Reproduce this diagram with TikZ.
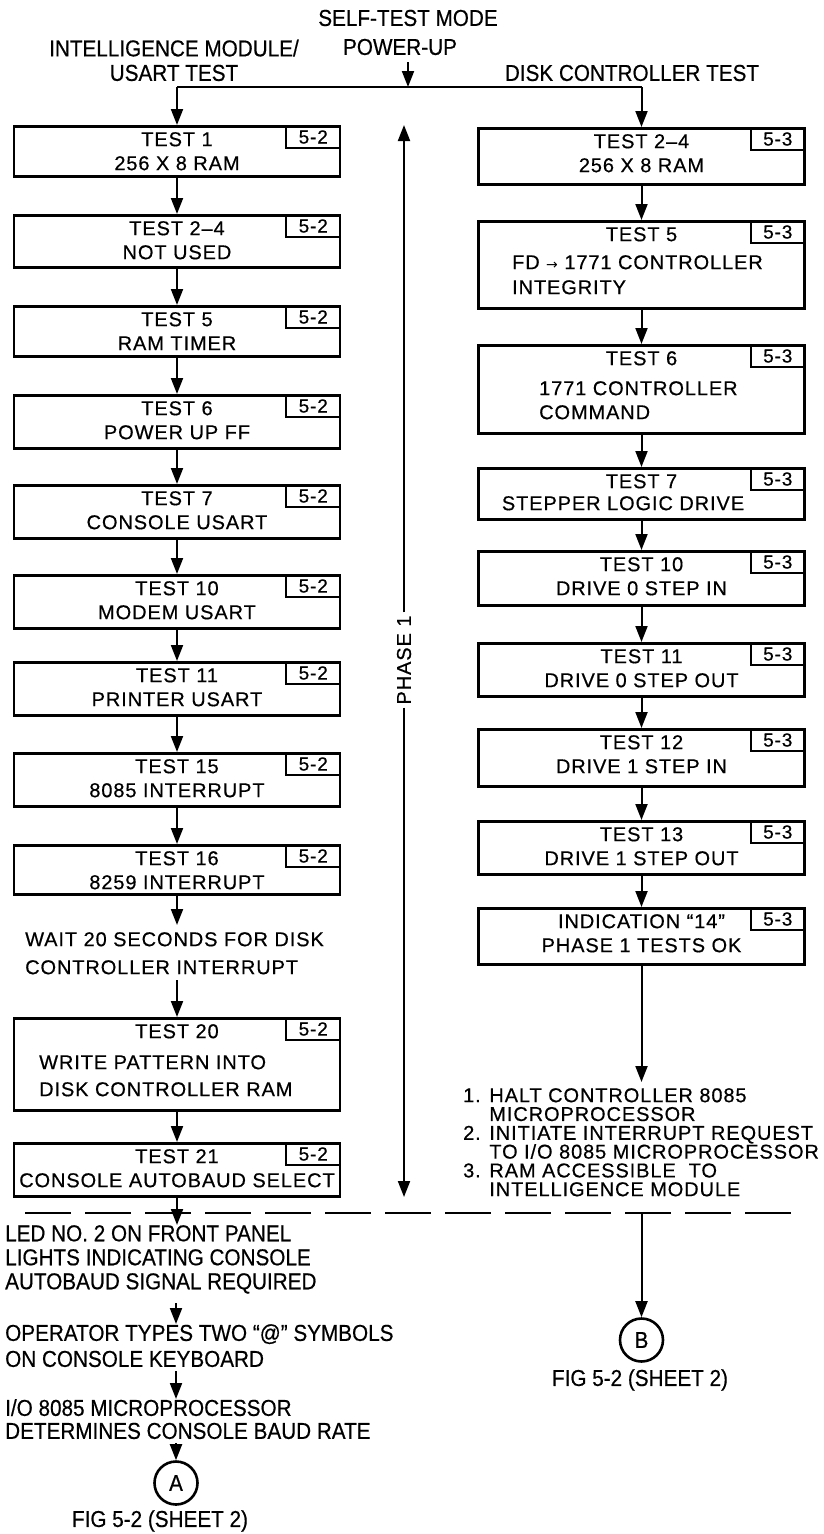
\documentclass[tikz,border=0pt]{standalone}
\usepackage{fontspec}
\setmainfont{Liberation Sans}
\newfontfamily\lsfam[LetterSpace=4.5,FakeBold=0.5]{Liberation Sans}
\newfontfamily\cdfam[FakeStretch=0.9,FakeBold=0.5]{Liberation Sans}
\newfontfamily\arrfam{DejaVu Sans}
\usetikzlibrary{arrows.meta,calc}
\newcommand\boxfnt{\lsfam\fontsize{20}{24}\selectfont}
\newcommand\tagfnt{\lsfam\fontsize{19}{20}\selectfont}
\newcommand\lblfnt{\cdfam\fontsize{23}{24.5}\selectfont}
\newcommand\tbox[6]{%
  \node[bx, minimum height=#4pt] (#1) at (#2,#3) {};
  \node[tg] (#1t) at (#1.north east) {#5};
  \node[bt] (#1x) at ([yshift=-7pt]#1.north) {#6};
}
\begin{document}
\begin{tikzpicture}[x=1pt,y=-1pt,
  bx/.style={draw, line width=2.6pt, minimum width=326pt, inner sep=0pt, anchor=north},
  tg/.style={draw, line width=2pt, minimum width=54pt, minimum height=22pt, inner sep=0pt, anchor=north east, font=\tagfnt},
  bt/.style={inner sep=0pt, anchor=north, font=\boxfnt, align=center},
  bl/.style={inner sep=0pt, anchor=north west, font=\boxfnt, align=left},
  lb/.style={inner sep=0pt, font=\lblfnt, align=left},
  ar/.style={line width=2pt, -{Triangle[length=16pt,width=12pt]}},
  ln/.style={line width=2pt},
  circ/.style={draw, circle, line width=2.6pt, minimum size=43pt, inner sep=0pt, font=\lblfnt}]
\useasboundingbox (0,0) rectangle (824,1534);

% top labels
\node[lb, anchor=center] (stm) at (408,18) {SELF-TEST MODE};
\node[lb, anchor=center] (pwr) at (400,47) {POWER-UP};
\node[lb, anchor=north, align=center] (iml) at (174,39.5) {INTELLIGENCE MODULE/\\USART TEST};
\node[lb, anchor=center] (dct) at (632,73) {DISK CONTROLLER TEST};

% left column
\tbox{L1}{177}{125}{50}{5-2}{TEST 1\\256 X 8 RAM}
\tbox{L2}{177}{214}{52}{5-2}{TEST 2–4\\NOT USED}
\tbox{L3}{177}{305}{50}{5-2}{TEST 5\\RAM TIMER}
\tbox{L4}{177}{394}{53}{5-2}{TEST 6\\POWER UP FF}
\tbox{L5}{177}{484}{53}{5-2}{TEST 7\\CONSOLE USART}
\tbox{L6}{177}{574}{53}{5-2}{TEST 10\\MODEM USART}
\tbox{L7}{177}{661}{53}{5-2}{TEST 11\\PRINTER USART}
\tbox{L8}{177}{752}{53}{5-2}{TEST 15\\8085 INTERRUPT}
\tbox{L9}{177}{844}{49}{5-2}{TEST 16\\8259 INTERRUPT}
\node[bl, font=\lsfam\fontsize{20}{28}\selectfont] (wait) at (25,932) {WAIT 20 SECONDS FOR DISK\\CONTROLLER INTERRUPT};
\tbox{L10}{177}{1017}{92}{5-2}{TEST 20}
\node[bl, font=\lsfam\fontsize{20}{27}\selectfont] (L10b) at (39,1055) {WRITE PATTERN INTO\\DISK CONTROLLER RAM};
\tbox{L11}{177}{1142}{53}{5-2}{TEST 21\\CONSOLE AUTOBAUD SELECT}

% right column
\tbox{R1}{641.5}{127}{56}{5-3}{TEST 2–4\\256 X 8 RAM}
\tbox{R2}{641.5}{220}{87}{5-3}{TEST 5}
\node[bl, font=\lsfam\fontsize{20}{25}\selectfont] (R2b) at (512,255) {FD {\arrfam\fontsize{14}{14}\selectfont→} 1771 CONTROLLER\\INTEGRITY};
\tbox{R3}{641.5}{344}{88}{5-3}{TEST 6}
\node[bl] (R3b) at (539,381) {1771 CONTROLLER\\COMMAND};
\tbox{R4}{641.5}{467}{51}{5-3}{TEST 7}
\node[bt] (R4b) at (623,496) {STEPPER LOGIC DRIVE};
\tbox{R5}{641.5}{550}{54}{5-3}{TEST 10\\DRIVE 0 STEP IN}
\tbox{R6}{641.5}{642}{53}{5-3}{TEST 11\\DRIVE 0 STEP OUT}
\tbox{R7}{641.5}{728}{57}{5-3}{TEST 12\\DRIVE 1 STEP IN}
\tbox{R8}{641.5}{820}{53}{5-3}{TEST 13\\DRIVE 1 STEP OUT}
\tbox{R9}{641.5}{907}{56}{5-3}{INDICATION “14”\\PHASE 1 TESTS OK}
\node[bl, font=\lsfam\fontsize{20}{18.8}\selectfont] (halt) at (463,1088)
  {1. HALT CONTROLLER 8085\\\hphantom{1. }MICROPROCESSOR\\2. INITIATE INTERRUPT REQUEST\\\hphantom{1. }TO I/O 8085 MICROPROCESSOR\\3. RAM ACCESSIBLE\ \ TO\\\hphantom{1. }INTELLIGENCE MODULE};

% phase 1 arrow
\node[inner sep=3pt, rotate=90, font=\boxfnt] (ph) at (404,660) {PHASE 1};
\coordinate (p1) at (404,125);
\coordinate (p2) at (404,1197);
\draw[ar] (ph.east) -- (p1);
\draw[ar] (ph.west) -- (p2);

% top tree
\coordinate (pw) at (408,62);
\coordinate (jc) at (408,87);
\coordinate (jl) at (177,87);
\coordinate (jr) at (641.5,87);
\draw[ln] (jl) -- (jr);
\draw[ar] (pw) -- (jc);
\draw[ar] (jl) -- (L1.north);
\draw[ar] (jr) -- (R1.north);

% left column connectors
\foreach \a/\b in {L1/L2,L2/L3,L3/L4,L4/L5,L5/L6,L6/L7,L7/L8,L8/L9,L10/L11}
  \draw[ar] (\a.south) -- (\b.north);
\coordinate (w1) at (177,925);
\coordinate (w2) at (177,980);
\draw[ar] (L9.south) -- (w1);
\draw[ar] (w2) -- (L10.north);

% right column connectors
\foreach \a/\b in {R1/R2,R2/R3,R3/R4,R4/R5,R5/R6,R6/R7,R7/R8,R8/R9}
  \draw[ar] (\a.south) -- (\b.north);
\coordinate (h1) at (641.5,1082);
\draw[ar] (R9.south) -- (h1);

% dashed separator
\coordinate (d1) at (25,1213);
\coordinate (d2) at (802,1213);
\draw[line width=2.6pt, dash pattern=on 46pt off 14pt] (d1) -- (d2);

% bottom left sequence
\node[lb, anchor=north west, font=\cdfam\fontsize{23}{24}\selectfont] (led) at (5,1225)
  {LED NO. 2 ON FRONT PANEL\\LIGHTS INDICATING CONSOLE\\AUTOBAUD SIGNAL REQUIRED};
\draw[ar] (L11.south) -- (L11.south |- led.north);
\node[lb, anchor=north west, font=\cdfam\fontsize{23}{26}\selectfont] (opr) at (5,1324)
  {OPERATOR TYPES TWO “@” SYMBOLS\\ON CONSOLE KEYBOARD};
\coordinate (o1) at (176,1303);
\draw[ar] (o1) -- (o1 |- opr.north);
\node[lb, anchor=north west, font=\cdfam\fontsize{23}{23}\selectfont] (io) at (5,1399)
  {I/O 8085 MICROPROCESSOR\\DETERMINES CONSOLE BAUD RATE};
\coordinate (o2) at (176,1371);
\draw[ar] (o2) -- (o2 |- io.north);
\node[circ] (A) at (176,1483) {A};
\coordinate (o3) at (176,1443);
\draw[ar] (o3) -- (A.north);
\node[lb, anchor=center] (figA) at (160,1521) {FIG 5-2 (SHEET 2)};

% bottom right
\node[circ] (B) at (641.5,1340) {B};
\coordinate (b0) at (641.5,1213);
\draw[ar] (b0) -- (B.north);
\node[lb, anchor=center] (figB) at (640,1380) {FIG 5-2 (SHEET 2)};
\end{tikzpicture}
\end{document}
